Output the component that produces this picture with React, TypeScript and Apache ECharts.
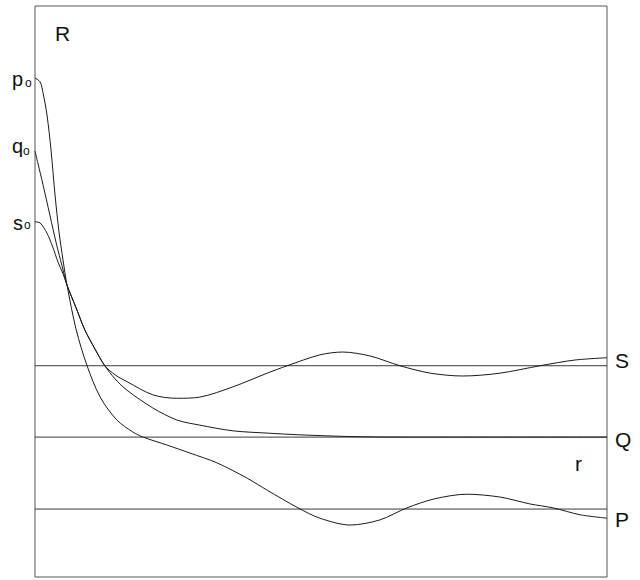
import React, { useEffect, useRef } from "react";
import * as echarts from "echarts";

// r (horizontal) and R (vertical) in arbitrary units
const sCurve: [number, number][] = [
  [0, 6.22], [0.09, 6.2], [0.21, 6.02], [0.31, 5.78], [0.4, 5.52], [0.49, 5.31],
  [0.56, 5.11], [0.72, 4.71], [0.87, 4.33], [1.05, 3.99], [1.22, 3.7], [1.4, 3.54],
  [1.61, 3.42], [2.06, 3.19], [2.48, 3.13], [2.88, 3.15], [3.46, 3.33], [4.06, 3.57],
  [4.41, 3.7], [4.98, 3.89], [5.38, 3.94], [5.86, 3.87], [6.38, 3.7], [6.91, 3.57],
  [7.48, 3.52], [8.13, 3.57], [8.83, 3.7], [9.44, 3.8], [10.0, 3.84],
];
const qCurve: [number, number][] = [
  [0, 7.46], [0.05, 7.25], [0.14, 6.87], [0.26, 6.34], [0.38, 5.81], [0.47, 5.46],
  [0.56, 5.11], [0.72, 4.71], [0.87, 4.33], [1.05, 3.99], [1.22, 3.7], [1.4, 3.47],
  [1.61, 3.27], [2.06, 2.96], [2.48, 2.75], [2.88, 2.66], [3.46, 2.56], [4.06, 2.52],
  [4.63, 2.49], [5.51, 2.46], [6.38, 2.45], [10.0, 2.45],
];
const pCurve: [number, number][] = [
  [0, 8.74], [0.09, 8.67], [0.14, 8.48], [0.21, 8.09], [0.28, 7.48], [0.35, 6.69],
  [0.42, 6.04], [0.49, 5.55], [0.56, 5.11], [0.72, 4.33], [0.91, 3.7], [1.14, 3.15],
  [1.43, 2.75], [1.71, 2.54], [1.89, 2.45], [2.31, 2.31], [2.71, 2.17], [3.18, 2.0],
  [3.71, 1.73], [4.06, 1.52], [4.6, 1.21], [4.98, 1.03], [5.51, 0.91], [6.03, 1.0],
  [6.5, 1.21], [6.99, 1.37], [7.55, 1.45], [8.13, 1.4], [8.65, 1.28], [9.06, 1.21],
  [9.53, 1.09], [10.0, 1.03],
];
const levelNames = ["S", "Q", "P"];
const levelValues = [3.7, 2.45, 1.19];
const rRange = [0, 10];

const FONT = "'Liberation Sans', Arial, sans-serif";

export default function App() {
  const ref = useRef<HTMLDivElement>(null);
  useEffect(() => {
    if (!ref.current) return;
    const chart = echarts.init(ref.current, null, { renderer: "svg" });
    const lineStyle = { color: "#1a1a1a", width: 1 };
    const curveSeries = [sCurve, qCurve, pCurve].map((d) => ({
      type: "line",
      data: d,
      smooth: 0.3,
      showSymbol: false,
      lineStyle,
      silent: true,
      z: 3,
    }));
    const levelSeries = levelValues.map((v) => ({
      type: "line",
      data: [[rRange[0], v], [rRange[1], v]],
      showSymbol: false,
      lineStyle: { color: "#3a3a3a", width: 1 },
      silent: true,
      z: 2,
    }));
    const txt = (text: string, x: number, y: number, size: number) => ({
      type: "text",
      x,
      y,
      style: { text, font: `${size}px ${FONT}`, fill: "#111", verticalAlign: "middle", align: "left" },
    });
    chart.setOption({
      animation: false,
      grid: { left: 35, right: 33, top: 6, bottom: 3, show: true, borderColor: "#555", borderWidth: 1 },
      xAxis: { type: "value", min: rRange[0], max: rRange[1], show: false },
      yAxis: { type: "value", min: 0, max: 10, show: false },
      series: [...levelSeries, ...curveSeries],
      graphic: [
        txt("R", 55, 33, 21),
        txt("p", 12, 79, 20),
        txt("o", 25, 83, 12),
        txt("q", 12, 146, 20),
        txt("o", 23, 151, 12),
        txt("s", 13, 223, 20),
        txt("o", 24, 225, 12),
        txt(levelNames[0], 615, 360, 21),
        txt(levelNames[1], 615, 439, 21),
        txt(levelNames[2], 615, 519, 21),
        txt("r", 575, 463, 21),
      ],
    });
    return () => chart.dispose();
  }, []);
  return <div ref={ref} style={{ position: "absolute", left: 0, top: 0, width: 640, height: 580 }} />;
}
